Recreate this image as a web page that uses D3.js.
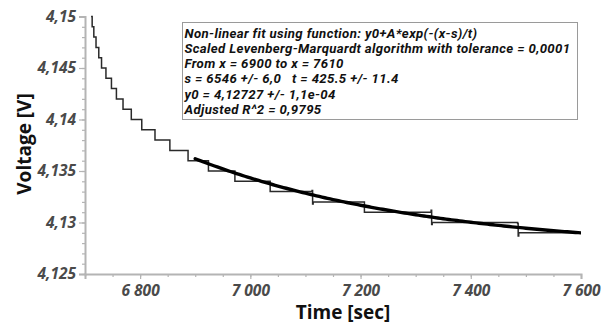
<!DOCTYPE html>
<html>
<head>
<meta charset="utf-8">
<script src="https://cdn.jsdelivr.net/npm/d3@7"></script>
<style>
  html, body { margin: 0; padding: 0; background: #fff; }
  svg { display: block; }
  text { font-family: "Open Sans", "DejaVu Sans", sans-serif; }
</style>
</head>
<body>
<svg id="chart" width="606" height="327"></svg>
<script>
// Measured battery voltage (stepped by ADC resolution): [time s, voltage V]
const sampleTime = [6711, 6713, 6716, 6720, 6725, 6730, 6738, 6748, 6757, 6769, 6784, 6803,
  6827, 6854, 6887, 6924, 6972, 7036, 7112, 7113, 7114, 7207, 7328, 7329, 7330, 7485, 7486, 7487, 7600];
const sampleVoltage = [4.150, 4.149, 4.148, 4.147, 4.146, 4.145, 4.144, 4.143, 4.142, 4.141, 4.140, 4.139,
  4.138, 4.137, 4.136, 4.135, 4.134, 4.133, 4.1331, 4.1318, 4.132, 4.131, 4.1312, 4.1298, 4.130, 4.1299, 4.1287, 4.129, 4.129];

// Exponential fit parameters y0 + A*exp(-(x-s)/t)
const fitY0 = 4.12727;
const fitA = 0.0205;
const fitS = 6546;
const fitT = 425.5;
const fitFrom = 6900;
const fitTo = 7610;

const yTicks = [4.125, 4.13, 4.135, 4.14, 4.145, 4.15];
const xTicks = [6800, 7000, 7200, 7400, 7600];

const fitNotes = [
  "Non-linear fit using function: y0+A*exp(-(x-s)/t)",
  "Scaled Levenberg-Marquardt algorithm with tolerance = 0,0001",
  "From x = 6900 to x = 7610",
  "s = 6546 +/- 6,0   t = 425.5 +/- 11.4",
  "y0 = 4,12727 +/- 1,1e-04",
  "Adjusted R^2 = 0,9795"
];

const svg = d3.select("#chart");
const plotLeft = 85, plotRight = 581, plotTop = 16.5, plotBottom = 274;

const x = d3.scaleLinear().domain([6700, 7600]).range([plotLeft, plotRight]);
const y = d3.scaleLinear().domain([4.125, 4.15]).range([plotBottom, plotTop]);

const locale = d3.formatLocale({ decimal: ",", thousands: " ", grouping: [3], currency: ["", ""] });
const fmtY = v => locale.format(",.3~f")(v);
const fmtX = v => locale.format(",d")(v);

const axisColor = "#b4b4b4";
const labelColor = "#4a4a4a";

// Minor ticks
const gMinorX = svg.append("g").attr("transform", `translate(0,${plotBottom})`)
  .call(d3.axisBottom(x).tickValues(d3.range(6700, 7601, 50)).tickSize(3).tickFormat(""));
const gMinorY = svg.append("g").attr("transform", `translate(${plotLeft},0)`)
  .call(d3.axisLeft(y).tickValues(d3.range(0, 26).map(i => 4.125 + i * 0.001)).tickSize(3).tickFormat(""));
[gMinorX, gMinorY].forEach(g => {
  g.select(".domain").remove();
  g.selectAll("line").attr("stroke", axisColor).attr("stroke-width", 1.2);
});

// Major axes
const gx = svg.append("g").attr("transform", `translate(0,${plotBottom})`)
  .call(d3.axisBottom(x).tickValues(xTicks).tickSize(5).tickPadding(6).tickFormat(fmtX));
const gy = svg.append("g").attr("transform", `translate(${plotLeft},0)`)
  .call(d3.axisLeft(y).tickValues(yTicks).tickSize(6).tickPadding(3).tickFormat(fmtY));
[gx, gy].forEach(g => {
  g.select(".domain").attr("stroke", axisColor).attr("stroke-width", 2);
  g.selectAll(".tick line").attr("stroke", axisColor).attr("stroke-width", 1.2);
  g.selectAll(".tick text")
    .attr("fill", labelColor)
    .style("font-family", "'Open Sans', sans-serif")
    .style("font-size", "15.5px")
    .style("font-weight", "700")
    .style("font-style", "italic");
});

// Axis titles
svg.append("text")
  .attr("x", 343).attr("y", 319)
  .attr("text-anchor", "middle")
  .style("font-size", "19px").style("font-weight", "700")
  .attr("fill", "#111")
  .text("Time [sec]");

svg.append("text")
  .attr("transform", "translate(31,144) rotate(-90)")
  .attr("text-anchor", "middle")
  .style("font-size", "19px").style("font-weight", "700")
  .attr("fill", "#111")
  .text("Voltage [V]");

// Measured data as a staircase
const samples = sampleTime.map((t, i) => ({ t, v: sampleVoltage[i] }));
svg.append("path")
  .datum(samples)
  .attr("fill", "none")
  .attr("stroke", "#2a2a2a")
  .attr("stroke-width", 1.5)
  .attr("d", d3.line().x(d => x(d.t)).y(d => y(d.v)).curve(d3.curveStepAfter));

// Fitted curve, clipped to the plot area
svg.append("clipPath").attr("id", "plot-clip")
  .append("rect").attr("x", plotLeft).attr("y", plotTop - 2)
  .attr("width", plotRight - plotLeft).attr("height", plotBottom - plotTop + 2);

const fitPts = d3.range(fitFrom, fitTo + 1, 5).map(t => ({ t, v: fitY0 + fitA * Math.exp(-(t - fitS) / fitT) }));
svg.append("path")
  .datum(fitPts)
  .attr("clip-path", "url(#plot-clip)")
  .attr("fill", "none")
  .attr("stroke", "#000")
  .attr("stroke-width", 3.4)
  .attr("stroke-linecap", "round")
  .attr("d", d3.line().x(d => x(d.t)).y(d => y(d.v)));

// Fit result box
const box = svg.append("g");
box.append("rect")
  .attr("x", 182.5).attr("y", 22.5).attr("width", 395).attr("height", 97)
  .attr("fill", "#fff").attr("stroke", "#9a9a9a").attr("stroke-width", 1);
const noteText = box.selectAll("text.note").data(fitNotes).join("text")
  .attr("class", "note")
  .attr("x", 184.5)
  .attr("y", (d, i) => 37.5 + i * 15.3)
  .attr("fill", "#111")
  .style("font-family", "Roboto, 'Open Sans', sans-serif")
  .style("font-size", "13.2px")
  .style("font-weight", "700")
  .style("font-style", "italic")
  .style("white-space", "pre")
  .text(d => d);
// Spread the letters so the widest line fills the box interior
const widestNode = noteText.nodes().reduce((a, b) => a.getComputedTextLength() > b.getComputedTextLength() ? a : b);
const spread = Math.max(0, (386 - widestNode.getComputedTextLength()) / widestNode.textContent.length);
noteText.style("letter-spacing", spread + "px");
</script>
</body>
</html>
